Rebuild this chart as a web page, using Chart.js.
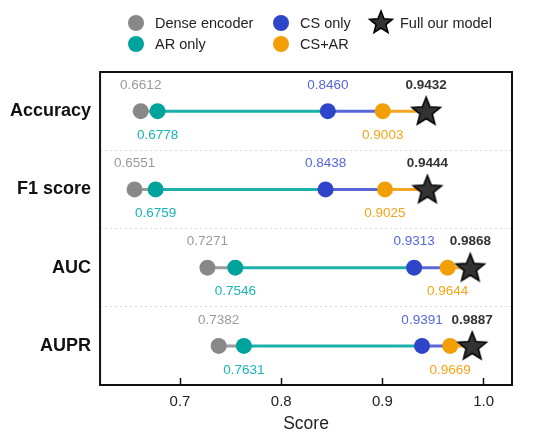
<!DOCTYPE html>
<html>
<head>
<meta charset="utf-8">
<script src="https://cdn.jsdelivr.net/npm/chart.js@4.4.1/dist/chart.umd.min.js"></script>
<style>
  html, body { margin: 0; padding: 0; background: #fff; }
  #wrap { width: 550px; height: 438px; }
</style>
</head>
<body>
<div id="wrap"><canvas id="c" width="550" height="438"></canvas></div>
<script>
// ---- data ----
const metrics = ['Accuracy', 'F1 score', 'AUC', 'AUPR'];
const models = ['Dense encoder', 'AR only', 'CS only', 'CS+AR', 'Full our model'];
const denseEncoder = [0.6612, 0.6551, 0.7271, 0.7382];
const arOnly       = [0.6778, 0.6759, 0.7546, 0.7631];
const csOnly       = [0.8460, 0.8438, 0.9313, 0.9391];
const csAr         = [0.9003, 0.9025, 0.9644, 0.9669];
const fullModel    = [0.9432, 0.9444, 0.9868, 0.9887];
const xTicks = [0.7, 0.8, 0.9, 1.0];
const seriesValues = [denseEncoder, arOnly, csOnly, csAr, fullModel];

// ---- styles ----
const FONT = "'Liberation Sans', Arial, sans-serif";
const pointColors = ['#888888', '#00A29C', '#2E45C9', '#F29E05', '#333333'];
const lineColors  = ['#9a9a9a', '#1BB0AA', '#5767D6', '#F5A524'];
const textColors  = ['#999999', '#17B4B8', '#5566DF', '#F4A418', '#333333'];
const labelAbove  = [true, false, true, false, true];

function makeStar(size, outerR, innerR) {
  const cv = document.createElement('canvas');
  cv.width = size; cv.height = size;
  const c = cv.getContext('2d');
  const cx = size / 2, cy = size / 2 + 1;
  c.beginPath();
  for (let i = 0; i < 10; i++) {
    const r = i % 2 === 0 ? outerR : innerR;
    const a = -Math.PI / 2 + i * Math.PI / 5;
    const px = cx + r * Math.cos(a), py = cy + r * Math.sin(a);
    if (i === 0) c.moveTo(px, py); else c.lineTo(px, py);
  }
  c.closePath();
  c.fillStyle = '#333333';
  c.fill();
  c.lineWidth = 1.5;
  c.strokeStyle = '#000000';
  c.lineJoin = 'miter';
  c.stroke();
  return cv;
}
const starImg = makeStar(34, 15, 6.5);
const starLegend = makeStar(28, 12, 5.2);

const datasets = [];
// connecting lines, one per metric
metrics.forEach((m, i) => {
  datasets.push({
    type: 'line',
    label: 'line-' + m,
    data: seriesValues.map(s => ({ x: s[i], y: m })),
    borderWidth: 3,
    pointRadius: 0,
    pointHoverRadius: 0,
    fill: false,
    order: 10,
    segment: { borderColor: ctx => lineColors[ctx.p0DataIndex] },
    isLine: true
  });
});
// markers, one per model
models.forEach((name, k) => {
  datasets.push({
    type: 'scatter',
    label: name,
    data: metrics.map((m, i) => ({ x: seriesValues[k][i], y: m })),
    pointStyle: k === 4 ? starImg : 'circle',
    pointRadius: k === 4 ? 15 : 8,
    pointHoverRadius: k === 4 ? 15 : 8,
    backgroundColor: pointColors[k],
    borderColor: pointColors[k],
    borderWidth: 0,
    showLine: false,
    order: 5 - k,
    modelIndex: k
  });
});

const boxPlugin = {
  id: 'boxPlugin',
  beforeDatasetsDraw(chart) {
    const { ctx, chartArea: a } = chart;
    ctx.save();
    ctx.strokeStyle = '#111';
    ctx.lineWidth = 2;
    ctx.strokeRect(a.left, a.top, a.right - a.left, a.bottom - a.top);
    ctx.restore();
  }
};

const valueLabelPlugin = {
  id: 'valueLabels',
  afterDatasetsDraw(chart) {
    const ctx = chart.ctx;
    ctx.save();
    ctx.textAlign = 'center';
    ctx.textBaseline = 'middle';
    chart.data.datasets.forEach((ds, di) => {
      if (ds.isLine) return;
      const k = ds.modelIndex;
      const meta = chart.getDatasetMeta(di);
      ctx.font = (k === 4 ? 'bold ' : '') + '13.5px ' + FONT;
      ctx.fillStyle = textColors[k];
      meta.data.forEach((pt, i) => {
        const v = ds.data[i].x;
        const y = labelAbove[k] ? pt.y - 26 : pt.y + 24;
        ctx.fillText(v.toFixed(4), pt.x, y);
      });
    });
    ctx.restore();
  }
};

const legendPlugin = {
  id: 'customLegend',
  afterDraw(chart) {
    const ctx = chart.ctx;
    const cols = [[0, 1], [2, 3], [4]];
    const colX = [136, 281, 381];
    const rowY = [23, 44];
    ctx.save();
    ctx.font = '14.5px ' + FONT;
    ctx.textBaseline = 'middle';
    ctx.textAlign = 'left';
    cols.forEach((col, c) => {
      col.forEach((k, r) => {
        const x = colX[c], y = rowY[r];
        if (k === 4) {
          ctx.drawImage(starLegend, x - 14, y - 15);
        } else {
          ctx.beginPath();
          ctx.arc(x, y, 8, 0, Math.PI * 2);
          ctx.fillStyle = pointColors[k];
          ctx.fill();
        }
        ctx.fillStyle = '#222';
        ctx.fillText(models[k], x + 19, y + 1);
      });
    });
    ctx.restore();
  }
};

new Chart(document.getElementById('c'), {
  type: 'line',
  data: { datasets },
  options: {
    responsive: false,
    animation: false,
    devicePixelRatio: 1,
    layout: { padding: { top: 72, right: 38, left: 1, bottom: 3 } },
    plugins: {
      legend: { display: false },
      tooltip: { enabled: false }
    },
    scales: {
      x: {
        type: 'linear',
        min: 0.621,
        max: 1.028,
        afterBuildTicks: axis => { axis.ticks = xTicks.map(v => ({ value: v })); },
        grid: {
          drawOnChartArea: false,
          drawTicks: true,
          tickLength: -7,
          tickColor: '#111',
          tickWidth: 1.5
        },
        border: { display: false },
        ticks: {
          padding: 15,
          color: '#222',
          font: { family: FONT, size: 15 },
          callback: v => Number(v).toFixed(1)
        },
        title: {
          display: true,
          text: 'Score',
          color: '#222',
          font: { family: FONT, size: 17.5 },
          padding: { top: -12, bottom: 0 }
        }
      },
      y: {
        type: 'category',
        labels: metrics,
        offset: true,
        grid: {
          offset: true,
          color: '#d8d8d8',
          lineWidth: 1,
          drawTicks: false
        },
        border: { display: false, dash: [2, 3] },
        ticks: {
          padding: 9,
          color: '#111',
          font: { family: FONT, size: 18, weight: 'bold' }
        }
      }
    }
  },
  plugins: [boxPlugin, valueLabelPlugin, legendPlugin]
});
</script>
</body>
</html>
